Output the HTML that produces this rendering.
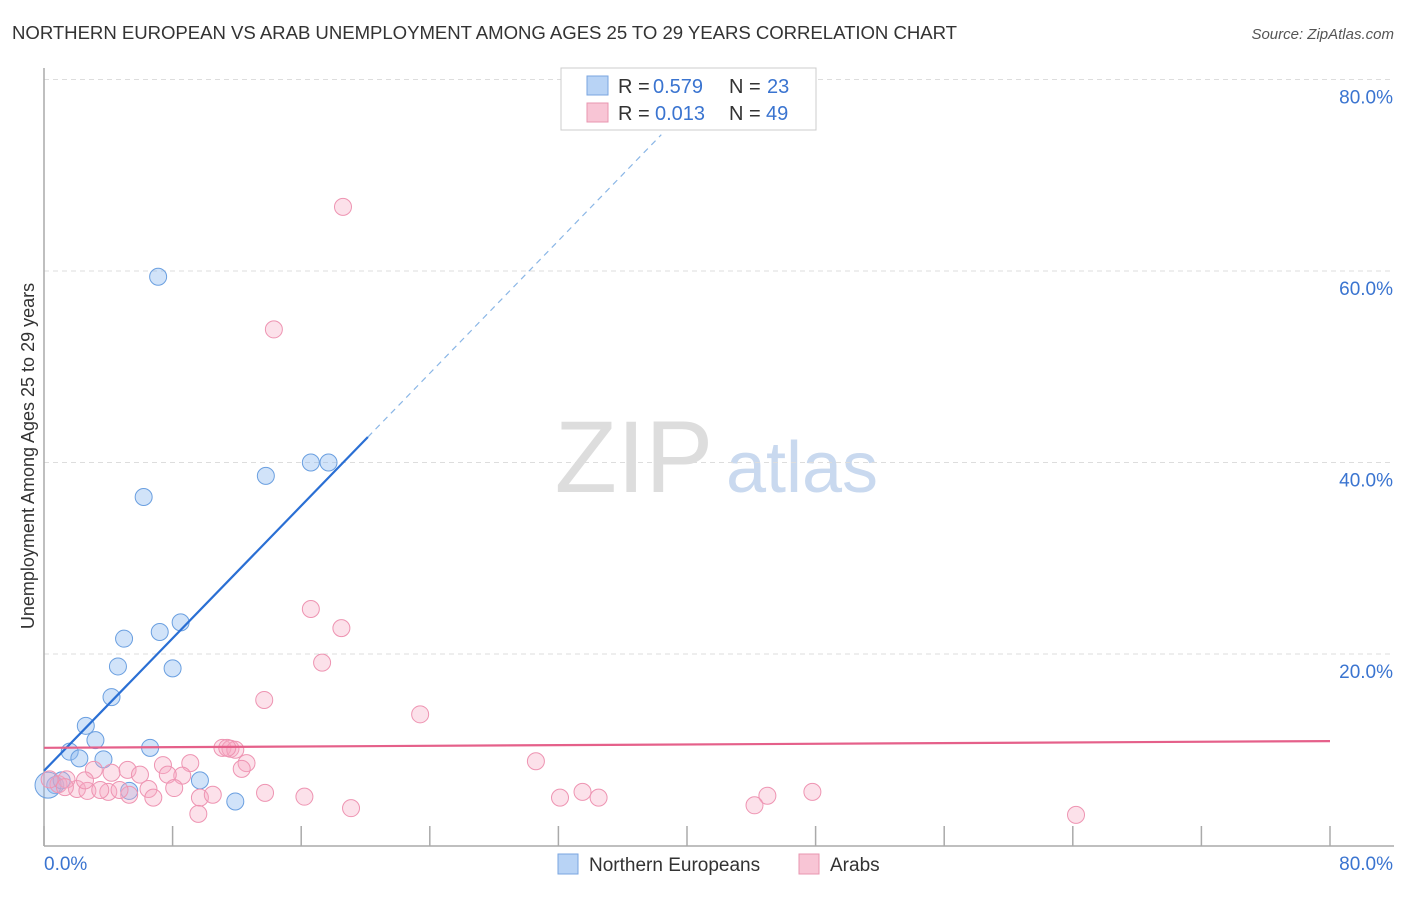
<!DOCTYPE html>
<html><head><meta charset="utf-8"><style>
body{margin:0;background:#fff;font-family:"Liberation Sans",sans-serif;}
svg text{font-family:"Liberation Sans",sans-serif;}
</style></head><body>
<svg id="chart" width="1406" height="892" viewBox="0 0 1406 892">
<text x="12" y="39" font-size="18.6" fill="#333" textLength="945">NORTHERN EUROPEAN VS ARAB UNEMPLOYMENT AMONG AGES 25 TO 29 YEARS CORRELATION CHART</text>
<text x="1394" y="39" font-size="15" fill="#555" font-style="italic" text-anchor="end">Source: ZipAtlas.com</text>
<text x="634" y="492" font-size="102" fill="#ddd" font-family="Liberation Serif" text-anchor="middle">ZIP</text>
<text x="802" y="492" font-size="72" fill="#c9d9ef" text-anchor="middle">atlas</text>
<g id="grid"></g>
<g id="marks"></g>
<text transform="translate(34,456) rotate(-90)" font-size="18" fill="#333" text-anchor="middle">Unemployment Among Ages 25 to 29 years</text>
<g>
<rect x="561" y="68" width="255" height="62" fill="#fff" stroke="#ccc"/>
<rect x="587" y="76" width="21" height="19" fill="#b8d3f5" stroke="#7aa6e0"/>
<rect x="587" y="103" width="21" height="19" fill="#f8c5d5" stroke="#e896b0"/>
<text x="618" y="93" font-size="20" fill="#333">R =</text>
<text x="653" y="93" font-size="20" fill="#3a74d0">0.579</text>
<text x="729" y="93" font-size="20" fill="#333">N =</text>
<text x="767" y="93" font-size="20" fill="#3a74d0">23</text>
<text x="618" y="120" font-size="20" fill="#333">R =</text>
<text x="655" y="120" font-size="20" fill="#3a74d0">0.013</text>
<text x="729" y="120" font-size="20" fill="#333">N =</text>
<text x="766" y="120" font-size="20" fill="#3a74d0">49</text>
</g>
<g>
<rect x="558" y="854" width="20" height="20" fill="#b8d3f5" stroke="#7aa6e0"/>
<text x="589" y="871" font-size="19" fill="#333">Northern Europeans</text>
<rect x="799" y="854" width="20" height="20" fill="#f8c5d5" stroke="#e896b0"/>
<text x="830" y="871" font-size="19" fill="#333">Arabs</text>
</g>
</svg>
<script>
const yTicks=[20,40,60,80];
const xTickLabels=["0.0%","80.0%"];
const blueX=[7.1,6.2,13.8,16.6,17.7,8.5,7.2,4.98,4.6,8.0,4.2,2.6,3.2,6.6,1.6,2.2,3.7,9.7,5.3,11.9,0.7,0.25,1.1];
const blueY=[59.4,36.4,38.6,40.0,40.0,23.3,22.3,21.6,18.7,18.5,15.5,12.5,11.0,10.2,9.8,9.1,9.0,6.8,5.7,4.6,6.3,6.3,6.8];
const pinkX=[18.6,14.3,16.6,18.5,17.3,13.7,23.4,11.1,11.6,11.9,11.4,30.6,9.1,7.4,12.6,5.2,12.3,3.1,8.6,7.7,5.97,4.2,33.5,13.75,47.8,45.0,2.05,2.7,4.0,5.3,6.5,8.1,0.9,0.35,1.4,9.7,10.5,6.8,16.2,32.1,34.5,44.2,19.1,9.6,64.2,4.7,3.5,1.3,2.55];
const pinkY=[66.7,53.9,24.7,22.7,19.1,15.2,13.7,10.2,10.1,10.0,10.2,8.8,8.6,8.4,8.6,7.9,8.0,7.9,7.3,7.4,7.4,7.6,5.6,5.5,5.6,5.2,5.9,5.7,5.6,5.3,5.9,6.0,6.4,6.9,6.9,5.0,5.3,5.0,5.1,5.0,5.0,4.2,3.9,3.3,3.2,5.8,5.8,6.1,6.8];
const blueLine=[7.8,1.73]; const pinkLine=[10.2,0.0088];
const X=v=>44+v*16.075, Y=v=>845.5-v*9.575;
const NS="http://www.w3.org/2000/svg";
const grid=document.getElementById('grid'), marks=document.getElementById('marks');
function mk(tag,at,parent){const e=document.createElementNS(NS,tag);for(const k in at)e.setAttribute(k,at[k]);parent.appendChild(e);return e;}
yTicks.forEach(t=>{
 const l=mk('line',{x1:44,x2:1394,y1:Y(t),y2:Y(t),stroke:'#ddd','stroke-dasharray':'5,4'},grid);
 
 
 const tx=mk('text',{x:1393,y:Y(t)+24,'font-size':19,fill:'#3a74d0','text-anchor':'end'},grid);
 tx.textContent=t.toFixed(1)+'%';
 
 
});
const ax=mk('line',{x1:44,x2:44,y1:68,y2:846,stroke:'#aaa','stroke-width':1.5},grid);


const bx=mk('line',{x1:44,x2:1394,y1:846,y2:846,stroke:'#aaa','stroke-width':1.5},grid);


for(let i=0;i<=10;i++){
 const tk=mk('line',{x1:X(i*8),x2:X(i*8),y1:826,y2:846,stroke:'#aaa','stroke-width':1.5},grid);
 
 
}
[[0,'start',44],[80,'end',1393]].forEach((d,i)=>{
 const tx=mk('text',{x:d[2],y:870,'font-size':19,fill:'#3a74d0','text-anchor':d[1]},grid);
 tx.textContent=xTickLabels[i];
 
 
});
blueX.forEach((x,i)=>{
 const c=mk('circle',{cx:X(x),cy:Y(blueY[i]),r:i===21?13:8.5,fill:'rgba(140,185,240,0.4)',stroke:'#6a9fe0','stroke-width':1},marks);
 
 
});
pinkX.forEach((x,i)=>{
 const c=mk('circle',{cx:X(x),cy:Y(pinkY[i]),r:8.5,fill:'rgba(245,170,195,0.35)',stroke:'#ee94b2','stroke-width':1},marks);
 
 
});
const bl=mk('line',{x1:X(0),y1:Y(blueLine[0]),x2:X(20.15),y2:Y(blueLine[0]+blueLine[1]*20.15),stroke:'#2a6fd4','stroke-width':2.2},marks);


const bd=mk('line',{x1:X(20.15),y1:Y(blueLine[0]+blueLine[1]*20.15),x2:X(38.4),y2:Y(blueLine[0]+blueLine[1]*38.4),stroke:'#8ab6e6','stroke-width':1.2,'stroke-dasharray':'6,5'},marks);


const pl=mk('line',{x1:X(0),y1:Y(pinkLine[0]),x2:X(80),y2:Y(pinkLine[0]+pinkLine[1]*80),stroke:'#e5608a','stroke-width':2.2},marks);


</script>
</body></html>
